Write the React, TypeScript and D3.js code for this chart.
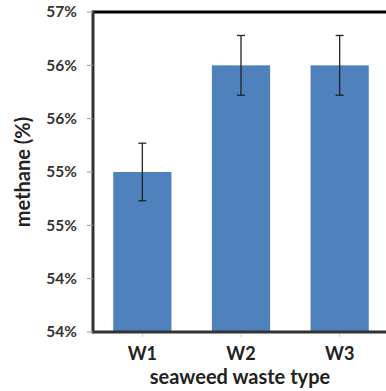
import React from 'react';
import * as d3 from 'd3';

const categories = ['W1', 'W2', 'W3'];
const methane = [55.5, 56.5, 56.5];
const errors = [0.27, 0.28, 0.28];
const yTicks = [54, 54.5, 55, 55.5, 56, 56.5, 57];
const yTickLabels = ['54%', '54%', '55%', '55%', '56%', '56%', '57%'];

const width = 386;
const height = 391;
const margin = { top: 12, left: 93, bottom: 59, right: -3 };
const font = 'Lato, "Open Sans", sans-serif';

export default function App() {
  const iwidth = width - margin.left - margin.right;
  const iheight = height - margin.top - margin.bottom;

  const x = d3.scaleBand().domain(categories).range([0, iwidth]).paddingInner(0.41).paddingOuter(0.205);
  const y = d3.scaleLinear().domain([54, 57]).range([iheight, 0]);

  return (
    <svg width={width} height={height} style={{ position: 'absolute', left: 0, top: 0, background: '#fff' }}>
      <g transform={`translate(${margin.left},${margin.top})`}>
        {/* bars */}
        {categories.map((c, i) => (
          <rect key={c} x={x(c)} y={y(methane[i])} width={x.bandwidth()} height={iheight - y(methane[i])} fill="#4F81BD" />
        ))}
        {/* error bars */}
        {categories.map((c, i) => {
          const cx = (x(c) as number) + x.bandwidth() / 2;
          const y1 = y(methane[i] + errors[i]);
          const y2 = y(methane[i] - errors[i]);
          return (
            <g key={'e' + c} stroke="#222" strokeWidth={1.3}>
              <line x1={cx} x2={cx} y1={y1} y2={y2} />
              <line x1={cx - 4} x2={cx + 4} y1={y1} y2={y1} />
              <line x1={cx - 4} x2={cx + 4} y1={y2} y2={y2} />
            </g>
          );
        })}
        {/* frame */}
        <line x1={0} x2={iwidth + 3} y1={0} y2={0} stroke="#000" strokeWidth={3} />
        <line x1={0} x2={iwidth} y1={iheight} y2={iheight} stroke="#333" strokeWidth={3} />
        <line x1={0} x2={0} y1={-1.5} y2={iheight + 1.5} stroke="#333" strokeWidth={3} />
        {/* y ticks */}
        {yTicks.map((t, i) => (
          <g key={t} transform={`translate(0,${y(t)})`}>
            <line x1={-6} x2={0} stroke="#999" strokeWidth={1} />
            <text x={-16} dy="0.35em" textAnchor="end" fontFamily={font} fontWeight="bold" fontSize={15.5} fill="#333">
              {yTickLabels[i]}
            </text>
          </g>
        ))}
        {/* x ticks */}
        {categories.map((c) => {
          const cx = (x(c) as number) + x.bandwidth() / 2;
          return (
            <g key={'x' + c} transform={`translate(${cx},${iheight})`}>
              <line y1={2} y2={5} stroke="#ccc" strokeWidth={1} />
              <text y={28} textAnchor="middle" fontFamily={font} fontWeight="bold" fontSize={18} fill="#222">
                {c}
              </text>
            </g>
          );
        })}
        <text x={147} y={iheight + 52} textAnchor="middle" fontFamily={font} fontWeight="bold" fontSize={20} fill="#222">
          seaweed waste type
        </text>
        <text transform={`translate(-63,${iheight / 2}) rotate(-90)`} textAnchor="middle" fontFamily={font} fontWeight="bold" fontSize={20} fill="#222">
          methane (%)
        </text>
      </g>
    </svg>
  );
}
